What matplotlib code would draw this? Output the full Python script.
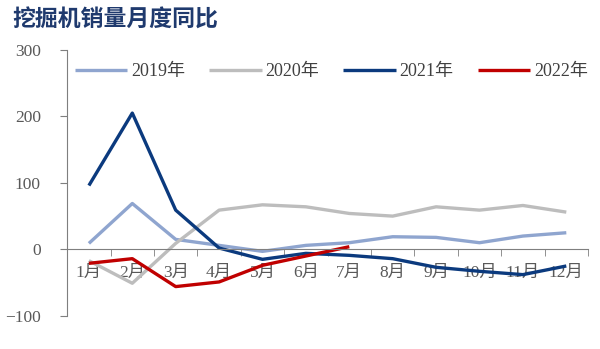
import numpy as np
import matplotlib.pyplot as plt

plt.rcParams['font.family'] = ['Liberation Serif', 'Noto Sans CJK SC']

months = ['1月', '2月', '3月', '4月', '5月', '6月', '7月', '8月', '9月', '10月', '11月', '12月']
yoy_2019 = [9, 69, 15, 6, -3, 6, 10, 19, 18, 10, 20, 25]
yoy_2020 = [-17, -51, 9, 59, 67, 64, 54, 50, 64, 59, 66, 56]
yoy_2021 = [96, 205, 59, 2, -15, -6, -9, -14, -27, -33, -38, -25]
yoy_2022 = [-21, -14, -56, -49, -24, -10, 4]

series = [
    ('2019年', yoy_2019, '#8FA5CF'),
    ('2020年', yoy_2020, '#BDBDBD'),
    ('2021年', yoy_2021, '#0B3A7E'),
    ('2022年', yoy_2022, '#C00000'),
]

fig = plt.figure(figsize=(6, 3.49), dpi=100)
ax = fig.add_axes([0.112, 0.095, 0.868, 0.762])

x = np.arange(len(months))
for name, vals, col in series:
    ax.plot(x[:len(vals)], vals, color=col, lw=2.4, label=name, solid_capstyle='butt')

ax.set_xlim(-0.5, len(months) - 0.5)
ax.set_ylim(-100, 300)
ax.set_yticks([-100, 0, 100, 200, 300])

grey = '#7F7F7F'
for s in ['top', 'right']:
    ax.spines[s].set_visible(False)
ax.spines['left'].set_color(grey)
ax.spines['bottom'].set_color(grey)
ax.spines['bottom'].set_position(('data', 0))

ax.tick_params(axis='y', direction='out', length=5, color=grey,
               labelcolor='#595959', labelsize=12.5, pad=14)
ax.set_xticks(x)
ax.set_xticklabels(months)
ax.tick_params(axis='x', which='major', length=0, labelcolor='#595959',
               labelsize=12.5, pad=11)
ax.set_xticks(np.arange(-0.5, len(months)), minor=True)
ax.tick_params(axis='x', which='minor', direction='out', length=5, color=grey)

ax.legend(loc='upper left', bbox_to_anchor=(0.015, 0.95), ncol=4, frameon=False,
          fontsize=13, handlelength=2.9, columnspacing=1.35, handletextpad=0.2,
          borderpad=0, borderaxespad=0, labelcolor='#404040')

fig.text(0.02, 0.925, '挖掘机销量月度同比', fontsize=16.5, fontweight='bold',
         color='#1F3A6E', family=['Noto Sans CJK SC'])

fig.savefig('out.png', dpi=100)
